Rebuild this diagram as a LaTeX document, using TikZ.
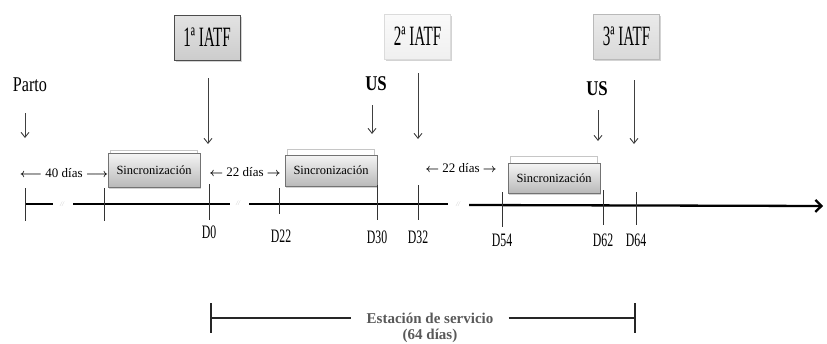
\documentclass[tikz,border=0pt]{standalone}
\usepackage{fontspec}
\usepackage{graphicx}
\setmainfont{Liberation Serif}
\usetikzlibrary{arrows.meta,shadows}
\newcommand{\sqz}[2]{\scalebox{#1}[1]{#2}}
\tikzset{
  iatfbox/.style={line width=1pt, minimum width=66pt, minimum height=45pt, inner sep=0pt,
    font=\fontsize{28}{28}\selectfont,
    drop shadow={shadow xshift=1.5pt, shadow yshift=-1.5pt, opacity=0.35}},
  syncbox/.style={draw=black!55, line width=0.6pt, top color=gray!8, bottom color=gray!55,
    minimum width=92pt, inner sep=0pt, font=\fontsize{12.5}{12.5}\selectfont,
    drop shadow={shadow xshift=1pt, shadow yshift=-1.5pt, opacity=0.35}},
  ledge/.style={draw=gray!45, line width=0.5pt},
  downarr/.style={draw=black!75, line width=0.9pt, -{Straight Barb[length=5pt,width=8pt]}},
  axisline/.style={line width=2.3pt, black},
  tickline/.style={line width=1pt, black!80},
  dlabel/.style={font=\fontsize{19}{19}\selectfont, inner sep=0pt},
  toplabel/.style={font=\fontsize{21}{21}\selectfont, inner sep=0pt},
  spanlabel/.style={font=\fontsize{13}{13}\selectfont\boldmath, inner sep=1pt},
  brk/.style={text=gray!40, font=\fontsize{7}{7}\selectfont\itshape, inner sep=0pt},
  servtext/.style={text=black!65, font=\fontsize{15}{16}\selectfont\bfseries, inner sep=1pt, align=center},
  servline/.style={line width=1.8pt, black!85}
}
\begin{document}
\begin{tikzpicture}[x=1pt,y=-1pt]
\useasboundingbox (0,0) rectangle (827,343);

% IATF boxes
\node[iatfbox, draw=black!70, top color=gray!22, bottom color=gray!40] (i1) at (207,37.5) {\sqz{0.54}{1ª IATF}};
\node[iatfbox, draw=gray!28, top color=gray!4, bottom color=gray!12] (i2) at (417.5,36.5) {\sqz{0.54}{2ª IATF}};
\node[iatfbox, draw=gray!55, top color=gray!16, bottom color=gray!30] (i3) at (626.5,36.5) {\sqz{0.54}{3ª IATF}};

% top labels
\node[toplabel] (parto) at (30,85) {\sqz{0.77}{Parto}};
\node[toplabel, font=\fontsize{21}{21}\selectfont\bfseries] (us1) at (376,84) {\sqz{0.8}{US}};
\node[toplabel, font=\fontsize{21}{21}\selectfont\bfseries] (us2) at (597,89) {\sqz{0.8}{US}};

% arrow coordinates
\coordinate (pa1) at (25,113);  \coordinate (pa2) at (25,138);
\coordinate (a1s) at (208,78);  \coordinate (a1e) at (208,144);
\coordinate (u1s) at (372,105); \coordinate (u1e) at (372,134);
\coordinate (a2s) at (418,73);  \coordinate (a2e) at (418,139);
\coordinate (u2s) at (598,110); \coordinate (u2e) at (598,141);
\coordinate (a3s) at (634,80);  \coordinate (a3e) at (634,144);
\draw[downarr] (pa1) -- (pa2);
\draw[downarr] (a1s) -- (a1e);
\draw[downarr] (u1s) -- (u1e);
\draw[downarr] (a2s) -- (a2e);
\draw[downarr] (u2s) -- (u2e);
\draw[downarr] (a3s) -- (a3e);

% Sincronizacion boxes
\node[syncbox, minimum height=34pt] (b1) at (154,170) {Sincronización};
\node[syncbox, minimum height=31pt] (b2) at (331,170.5) {Sincronización};
\node[syncbox, minimum height=30pt] (b3) at (554,178) {Sincronización};
\draw[ledge] ([xshift=3pt]b2.north west) -- ++(0,-5) -| ([xshift=-3pt]b2.north east);
\draw[ledge] ([xshift=3pt]b3.north west) -- ++(0,-6) -| ([xshift=-3pt]b3.north east);
\draw[ledge] ([xshift=3pt]b1.north west) -- ++(0,-2) -| ([xshift=-3pt]b1.north east);

% span labels
\node[spanlabel] (s40) at (64,173) {$\longleftarrow$ 40 días $\longrightarrow$};
\node[spanlabel] (s22a) at (245,172) {$\leftarrow$ 22 días $\rightarrow$};
\node[spanlabel] (s22b) at (461,168) {$\leftarrow$ 22 días $\rightarrow$};

% timeline
\coordinate (s1a) at (25,204);  \coordinate (s1b) at (53,204);
\coordinate (s2a) at (73,204);  \coordinate (s2b) at (230,204);
\coordinate (s3a) at (249,204); \coordinate (s3b) at (448,204);
\coordinate (s4a) at (469,205); \coordinate (s4b) at (823,206);
\draw[axisline] (s1a) -- (s1b);
\draw[axisline] (s2a) -- (s2b);
\draw[axisline] (s3a) -- (s3b);
\draw[axisline, -{Straight Barb[length=6pt,width=12pt]}] (s4a) -- (s4b);

\node[brk] (k1) at (62,204) {//};
\node[brk] (k2) at (238,203) {//};
\node[brk] (k3) at (458,204) {//};

% ticks
\draw[tickline] (25,188) -- (25,221);
\draw[tickline] (104,188) -- (104,221);
\draw[tickline] (209,184) -- (209,220);
\draw[tickline] (279,188) -- (279,214);
\draw[tickline] (377,185) -- (377,220);
\draw[tickline] (418,185) -- (418,220);
\draw[tickline] (502,192) -- (502,227);
\draw[tickline] (603,190) -- (603,225);
\draw[tickline] (636,192) -- (636,225);

% day labels
\node[dlabel] (d0) at (209,232) {\sqz{0.62}{D0}};
\node[dlabel] (d22) at (281,236) {\sqz{0.62}{D22}};
\node[dlabel] (d30) at (377,237) {\sqz{0.62}{D30}};
\node[dlabel] (d32) at (418,237) {\sqz{0.62}{D32}};
\node[dlabel] (d54) at (502,240) {\sqz{0.62}{D54}};
\node[dlabel] (d62) at (603,240) {\sqz{0.62}{D62}};
\node[dlabel] (d64) at (636,240) {\sqz{0.62}{D64}};

% service station
\node[servtext] (serv) at (430,318) {Estación de servicio};
\node[servtext] (serv2) at (430,336) {(64 días)};
\coordinate (e1) at (211,318); \coordinate (e2) at (635,318);
\draw[servline, shorten >=14pt] (e1) -- (serv.west);
\draw[servline, shorten <=14pt] (serv.east) -- (e2);
\draw[line width=1.4pt, black!85] (211,303) -- (211,333);
\draw[line width=1.4pt, black!85] (635,303) -- (635,333);
\end{tikzpicture}
\end{document}
